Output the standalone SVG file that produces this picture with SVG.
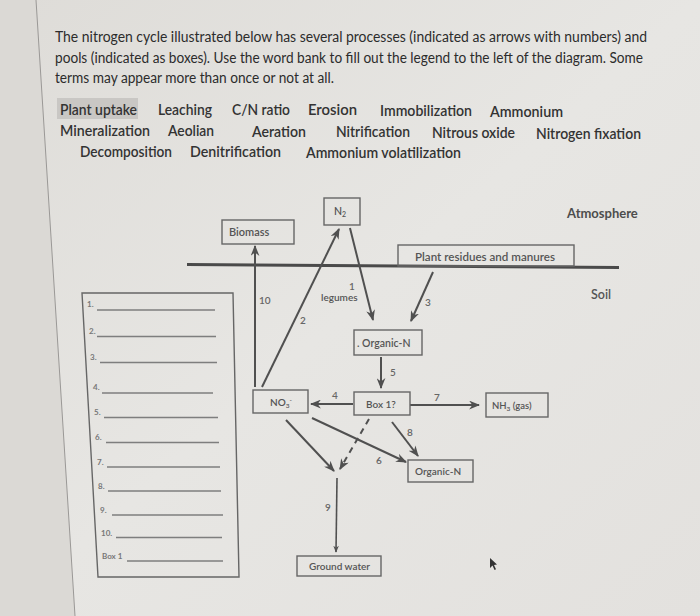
<svg xmlns="http://www.w3.org/2000/svg" width="700" height="616" viewBox="0 0 700 616">
<defs>
<linearGradient id="bg" x1="0" y1="0" x2="1" y2="1">
<stop offset="0" stop-color="#dedcd8"/>
<stop offset="0.5" stop-color="#e7e6e3"/>
<stop offset="1" stop-color="#e3e1de"/>
</linearGradient>
<marker id="ah" viewBox="0 0 10 8" refX="9" refY="4" markerWidth="11" markerHeight="9" markerUnits="userSpaceOnUse" orient="auto">
<path d="M0,0 L10,4 L0,8 L3,4 z" fill="#505050"/>
</marker>
<marker id="ahs" viewBox="0 0 10 8" refX="9" refY="4" markerWidth="7" markerHeight="6" markerUnits="userSpaceOnUse" orient="auto">
<path d="M0,0 L10,4 L0,8 L3,4 z" fill="#505050"/>
</marker>
</defs>
<style>
.hd{font-family:Lato,"Open Sans","Liberation Sans",sans-serif;font-size:14.5px;fill:#2c2c2c}
.wb{font-family:Lato,"Open Sans","Liberation Sans",sans-serif;font-size:14.5px;font-weight:600;fill:#333}
.bx{fill:none;stroke:#666;stroke-width:1.4}
.lb{font-family:Lato,"Open Sans","Liberation Sans",sans-serif;font-size:10.5px;font-weight:600;fill:#555}
.nm{font-family:Lato,"Open Sans","Liberation Sans",sans-serif;font-size:10px;font-weight:600;fill:#666}
.lg{font-family:Lato,"Open Sans","Liberation Sans",sans-serif;font-size:8px;font-weight:bold;fill:#777}
.ar{stroke:#505050;stroke-width:2;fill:none;marker-end:url(#ah)}
.ln{stroke:#7e7e7e;stroke-width:1.3}
</style>
<rect width="700" height="616" fill="url(#bg)"/>
<polygon points="0,0 36,0 75,616 0,616" fill="#dbd9d5"/>
<line x1="36" y1="0" x2="75" y2="616" stroke="#9a9896" stroke-width="1"/>

<g id="instructions">
<text class="hd" x="55" y="42" textLength="592" lengthAdjust="spacingAndGlyphs">The nitrogen cycle illustrated below has several processes (indicated as arrows with numbers) and</text>
<text class="hd" x="55" y="63" textLength="588" lengthAdjust="spacingAndGlyphs">pools (indicated as boxes). Use the word bank to fill out the legend to the left of the diagram. Some</text>
<text class="hd" x="55" y="83" textLength="279" lengthAdjust="spacingAndGlyphs">terms may appear more than once or not at all.</text>
</g>

<g id="word-bank">
<rect x="57" y="98" width="81" height="21" fill="#c9c7c4"/>
<text class="wb" x="60" y="115" textLength="77" lengthAdjust="spacingAndGlyphs">Plant uptake</text>
<text class="wb" x="158" y="115" textLength="54" lengthAdjust="spacingAndGlyphs">Leaching</text>
<text class="wb" x="232" y="115" textLength="58" lengthAdjust="spacingAndGlyphs">C/N ratio</text>
<text class="wb" x="308" y="115" textLength="49" lengthAdjust="spacingAndGlyphs">Erosion</text>
<text class="wb" x="380" y="116" textLength="92" lengthAdjust="spacingAndGlyphs">Immobilization</text>
<text class="wb" x="490" y="117" textLength="73" lengthAdjust="spacingAndGlyphs">Ammonium</text>
<text class="wb" x="60" y="136" textLength="90" lengthAdjust="spacingAndGlyphs">Mineralization</text>
<text class="wb" x="168" y="136" textLength="46" lengthAdjust="spacingAndGlyphs">Aeolian</text>
<text class="wb" x="252" y="137" textLength="54" lengthAdjust="spacingAndGlyphs">Aeration</text>
<text class="wb" x="336" y="137" textLength="74" lengthAdjust="spacingAndGlyphs">Nitrification</text>
<text class="wb" x="432" y="138" textLength="83" lengthAdjust="spacingAndGlyphs">Nitrous oxide</text>
<text class="wb" x="536" y="139" textLength="105" lengthAdjust="spacingAndGlyphs">Nitrogen fixation</text>
<text class="wb" x="80" y="157" textLength="92" lengthAdjust="spacingAndGlyphs">Decomposition</text>
<text class="wb" x="190" y="157" textLength="91" lengthAdjust="spacingAndGlyphs">Denitrification</text>
<text class="wb" x="306" y="158" textLength="155" lengthAdjust="spacingAndGlyphs">Ammonium volatilization</text>
</g>

<g id="legend">
<polygon class="bx" points="82,293 233,293 239,577 98,577"/>
<text class="lg" x="87" y="307">1.</text><line class="ln" x1="97" y1="310" x2="215" y2="310"/>
<text class="lg" x="89" y="334">2.</text><line class="ln" x1="97" y1="336.5" x2="216" y2="336.5"/>
<text class="lg" x="90" y="360">3.</text><line class="ln" x1="100" y1="362.5" x2="217" y2="362.5"/>
<text class="lg" x="93" y="390">4.</text><line class="ln" x1="102" y1="393" x2="213" y2="393"/>
<text class="lg" x="94" y="415">5.</text><line class="ln" x1="104" y1="417.5" x2="218" y2="417.5"/>
<text class="lg" x="95" y="440">6.</text><line class="ln" x1="106" y1="442.5" x2="219" y2="442.5"/>
<text class="lg" x="97" y="465">7.</text><line class="ln" x1="107" y1="467" x2="220" y2="467"/>
<text class="lg" x="98" y="489">8.</text><line class="ln" x1="108" y1="491" x2="221" y2="491"/>
<text class="lg" x="100" y="513">9.</text><line class="ln" x1="112" y1="515" x2="223" y2="515"/>
<text class="lg" x="101" y="536">10.</text><line class="ln" x1="116" y1="537.5" x2="222" y2="537.5"/>
<text class="lg" x="102" y="559">Box 1</text><line class="ln" x1="127" y1="561" x2="223" y2="561"/>
</g>

<g id="ground-line">
<line x1="187" y1="264.5" x2="619" y2="267.5" stroke="#4a4a4a" stroke-width="3"/>
<text class="lb" x="567" y="218" style="font-size:13px;font-weight:bold;fill:#4d4d4d">Atmosphere</text>
<text class="lb" x="591" y="299" style="font-size:12.5px">Soil</text>
</g>

<g id="connectors">
<line class="ar" x1="255" y1="387" x2="255" y2="246"/>
<line class="ar" x1="262" y1="387" x2="339" y2="229"/>
<line class="ar" x1="350" y1="228" x2="373" y2="320"/>
<line class="ar" x1="433" y1="272" x2="411" y2="321"/>
<line class="ar" x1="381" y1="357" x2="381" y2="388"/>
<line class="ar" x1="353" y1="404" x2="311" y2="404"/>
<line class="ar" x1="410" y1="405" x2="479" y2="405"/>
<line class="ar" x1="392" y1="422" x2="418" y2="456"/>
<line class="ar" x1="312" y1="418" x2="406" y2="462"/>
<line class="ar" x1="286" y1="420" x2="334" y2="471"/>
<line class="ar" x1="369" y1="419" x2="340" y2="469" stroke-dasharray="6,5"/>
<line x1="337" y1="478" x2="336" y2="552" stroke="#505050" stroke-width="1.6" marker-end="url(#ahs)"/>
<text class="nm" x="259" y="304">10</text>
<text class="nm" x="300" y="324">2</text>
<text class="nm" x="349" y="290">1</text>
<text class="lb" x="321" y="301" style="font-size:10px">legumes</text>
<text class="nm" x="425" y="306">3</text>
<text class="nm" x="390" y="376">5</text>
<text class="nm" x="332" y="399">4</text>
<text class="nm" x="434" y="401">7</text>
<text class="nm" x="407" y="436">8</text>
<text class="nm" x="376" y="464">6</text>
<text class="nm" x="325" y="511">9</text>
</g>

<g id="node-n2">
<rect class="bx" x="324" y="198" width="36" height="27"/>
<text class="lb" x="334" y="215">N<tspan style="font-size:7px" dy="2">2</tspan></text>
</g>
<g id="node-biomass">
<rect class="bx" x="222" y="220" width="72" height="24"/>
<text class="lb" x="229" y="236" style="font-size:11px">Biomass</text>
</g>
<g id="node-plant-residues">
<rect class="bx" x="398" y="245" width="176" height="21"/>
<text class="lb" x="415" y="261" textLength="140" lengthAdjust="spacingAndGlyphs">Plant residues and manures</text>
</g>
<g id="node-organic-n-1">
<rect class="bx" x="354" y="330" width="68" height="25"/>
<text class="lb" x="357" y="347">. Organic-N</text>
</g>
<g id="node-no3">
<rect class="bx" x="253" y="390" width="55" height="23"/>
<text class="lb" x="270" y="406" style="font-size:10px">NO<tspan style="font-size:6.5px" dy="2">3</tspan><tspan style="font-size:6.5px" dy="-6">-</tspan></text>
</g>
<g id="node-box1">
<rect class="bx" x="354" y="392" width="56" height="23"/>
<text class="lb" x="366" y="408" style="font-size:10px">Box 1?</text>
</g>
<g id="node-nh3">
<rect class="bx" x="486" y="393" width="62" height="24"/>
<text class="lb" x="492" y="409" style="font-size:9.5px">NH<tspan style="font-size:6.5px" dy="1.5">3</tspan><tspan dy="-1.5"> (gas)</tspan></text>
</g>
<g id="node-organic-n-2">
<rect class="bx" x="408" y="460" width="65" height="22"/>
<text class="lb" x="415" y="475" style="font-size:10px">Organic-N</text>
</g>
<g id="node-ground-water">
<rect class="bx" x="297" y="556" width="84" height="20"/>
<text class="lb" x="309" y="570" style="font-size:10px">Ground water</text>
</g>
<g id="cursor">
<path d="M490,558 L490,568 L492.5,565.5 L494.5,570 L496,569.3 L494,565 L497,564.5 z" fill="#333"/>
</g>
</svg>
